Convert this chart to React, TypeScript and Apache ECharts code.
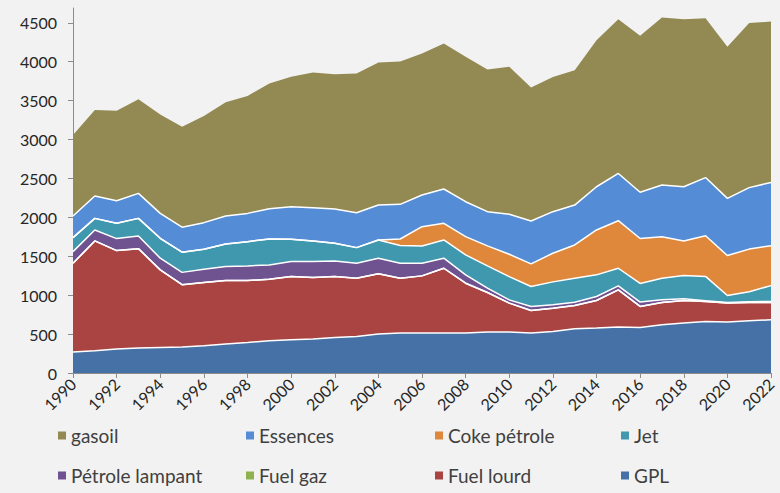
import React, { useEffect, useRef } from "react";
import * as echarts from "echarts";

const years = [
  "1990", "1991", "1992", "1993", "1994", "1995", "1996", "1997", "1998", "1999",
  "2000", "2001", "2002", "2003", "2004", "2005", "2006", "2007", "2008", "2009",
  "2010", "2011", "2012", "2013", "2014", "2015", "2016", "2017", "2018", "2019",
  "2020", "2021", "2022",
];

const gpl = [269, 286, 308, 320, 329, 335, 350, 372, 393, 415, 427, 436, 457, 470, 500, 513, 513, 513, 513, 526, 526, 513, 534, 568, 577, 590, 585, 620, 641, 662, 654, 671, 684];
const fuelLourd = [1141, 1411, 1265, 1278, 996, 800, 813, 816, 795, 790, 812, 791, 782, 748, 774, 705, 735, 833, 641, 508, 372, 291, 299, 300, 355, 478, 270, 286, 291, 257, 244, 235, 222];
const fuelGaz = [0, 0, 0, 0, 0, 0, 0, 0, 0, 0, 0, 0, 0, 0, 0, 0, 0, 0, 0, 0, 0, 0, 0, 0, 0, 0, 0, 0, 0, 0, 0, 0, 0];
const petroleLampant = [150, 141, 154, 163, 150, 158, 170, 180, 188, 184, 193, 205, 201, 192, 201, 192, 162, 129, 107, 56, 42, 51, 43, 42, 51, 52, 56, 34, 21, 10, 8, 10, 12];
const jet = [180, 149, 196, 226, 256, 260, 257, 290, 312, 333, 286, 265, 227, 201, 235, 227, 223, 235, 256, 286, 299, 256, 295, 308, 278, 226, 240, 278, 299, 312, 90, 128, 205];
const cokePetrole = [0, 0, 0, 0, 0, 0, 0, 0, 0, 0, 0, 0, 0, 0, 0, 85, 247, 213, 235, 257, 287, 291, 368, 427, 577, 611, 577, 534, 445, 522, 513, 548, 513];
const essences = [277, 287, 291, 321, 320, 321, 342, 359, 363, 389, 419, 427, 440, 449, 448, 445, 407, 441, 449, 440, 513, 551, 534, 513, 555, 607, 594, 663, 696, 748, 735, 790, 812];
const gasoil = [1040, 1104, 1155, 1211, 1272, 1290, 1369, 1463, 1509, 1609, 1669, 1738, 1733, 1789, 1832, 1836, 1819, 1870, 1861, 1827, 1895, 1716, 1732, 1733, 1883, 1982, 2010, 2152, 2153, 2046, 1947, 2115, 2067];

const yTicks = [0, 500, 1000, 1500, 2000, 2500, 3000, 3500, 4000, 4500];

const seriesDefs = [
  { name: "GPL", data: gpl, color: "#4671A6" },
  { name: "Fuel lourd", data: fuelLourd, color: "#A94442" },
  { name: "Fuel gaz", data: fuelGaz, color: "#8FB24F" },
  { name: "Pétrole lampant", data: petroleLampant, color: "#6F5290" },
  { name: "Jet", data: jet, color: "#3F98AE" },
  { name: "Coke pétrole", data: cokePetrole, color: "#DF873A" },
  { name: "Essences", data: essences, color: "#548CD6" },
  { name: "gasoil", data: gasoil, color: "#938A53" },
];

const legendLayout = [
  { name: "gasoil", left: 58, top: 426 },
  { name: "Essences", left: 246, top: 426 },
  { name: "Coke pétrole", left: 435, top: 426 },
  { name: "Jet", left: 621, top: 426 },
  { name: "Pétrole lampant", left: 58, top: 466 },
  { name: "Fuel gaz", left: 246, top: 466 },
  { name: "Fuel lourd", left: 435, top: 466 },
  { name: "GPL", left: 621, top: 466 },
];

const FONT = "Lato";

export default function App() {
  const ref = useRef<HTMLDivElement>(null);
  useEffect(() => {
    if (!ref.current) return;
    const chart = echarts.init(ref.current, undefined, { renderer: "svg" });
    chart.setOption({
      animation: false,
      backgroundColor: "#F2F2F2",
      color: seriesDefs.map((s) => s.color),
      grid: { left: 73, right: 9, top: 8, bottom: 120, containLabel: false },
      legend: legendLayout.map((l) => ({
        data: [l.name],
        left: l.left,
        top: l.top,
        padding: 0,
        icon: "rect",
        itemWidth: 8,
        itemHeight: 8,
        itemGap: 6,
        selectedMode: false,
        textStyle: { fontFamily: FONT, fontSize: 19, color: "#404040" },
      })),
      xAxis: {
        type: "category",
        data: years,
        boundaryGap: false,
        axisLine: { lineStyle: { color: "#8C8C8C", width: 1 } },
        axisTick: { show: true, interval: 1, length: 5, lineStyle: { color: "#8C8C8C" } },
        axisLabel: {
          interval: 1,
          rotate: 45,
          margin: 8,
          fontFamily: FONT,
          fontSize: 16,
          color: "#262626",
        },
        splitLine: { show: false },
      },
      yAxis: {
        type: "value",
        min: 0,
        max: 4690,
        interval: 500,
        axisLine: { show: true, lineStyle: { color: "#8C8C8C", width: 1 } },
        axisTick: { show: true, length: 5, customValues: yTicks, lineStyle: { color: "#8C8C8C" } },
        axisLabel: {
          customValues: yTicks,
          formatter: (v: number) => String(v),
          margin: 16,
          fontFamily: FONT,
          fontSize: 16,
          color: "#262626",
        },
        splitLine: { show: false },
      },
      series: seriesDefs.map((s) => ({
        name: s.name,
        type: "line",
        stack: "total",
        data: s.data,
        symbol: "none",
        smooth: false,
        itemStyle: { color: s.color },
        lineStyle: { color: "#FFFFFF", width: s.name === "gasoil" ? 0 : 1.5 },
        areaStyle: { color: s.color, opacity: 1 },
      })),
    });
    return () => chart.dispose();
  }, []);
  return (
    <div
      ref={ref}
      style={{ position: "fixed", left: 0, top: 0, width: 780, height: 493 }}
    />
  );
}
